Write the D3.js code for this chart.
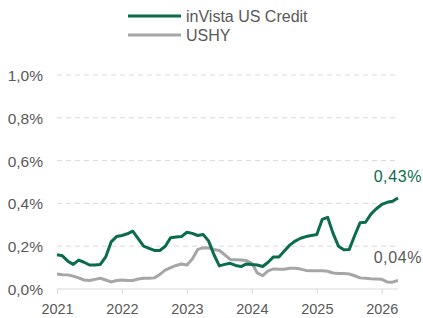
<!DOCTYPE html>
<html>
<head>
<meta charset="utf-8">
<script src="https://cdnjs.cloudflare.com/ajax/libs/d3/7.8.5/d3.min.js"></script>
<style>
    body { margin: 0; background: #fff; }
    svg { font-family: "Liberation Sans", Arial, sans-serif; }
</style>
</head>
<body>
<script>
var w = 423, h = 318;

// monthly points, Jan 2021 .. Apr 2026 (values in %)
var invista = [0.16,0.155,0.13,0.115,0.135,0.125,0.112,0.112,0.115,0.15,0.22,0.245,
    0.25,0.258,0.27,0.235,0.2,0.19,0.18,0.18,0.2,0.24,0.243,0.245,
    0.265,0.26,0.25,0.255,0.225,0.16,0.108,0.115,0.12,0.11,0.105,0.117,
    0.114,0.112,0.105,0.125,0.15,0.15,0.178,0.205,0.224,0.237,0.245,0.25,
    0.255,0.325,0.335,0.26,0.2,0.183,0.185,0.25,0.31,0.312,0.35,0.375,
    0.395,0.405,0.41,0.425];
var ushy = [0.07,0.067,0.066,0.06,0.052,0.042,0.04,0.045,0.05,0.042,0.033,0.04,
    0.042,0.04,0.04,0.047,0.05,0.05,0.052,0.068,0.088,0.1,0.11,0.117,
    0.112,0.14,0.185,0.192,0.193,0.185,0.18,0.16,0.138,0.137,0.136,0.133,
    0.12,0.075,0.062,0.085,0.094,0.092,0.092,0.097,0.097,0.093,0.087,0.085,
    0.085,0.085,0.083,0.075,0.072,0.072,0.07,0.062,0.052,0.05,0.048,0.047,
    0.045,0.033,0.032,0.04];
var years = [2021, 2022, 2023, 2024, 2025, 2026];
var yTicks = [0, 0.2, 0.4, 0.6, 0.8, 1.0];
var seriesNames = ["inVista US Credit", "USHY"];
var colors = ["#0b6b4f", "#a6a6a6"];
var endLabels = ["0,43%", "0,04%"];

var x = d3.scaleLinear().domain([0, invista.length - 1]).range([57, 398]);
var y = d3.scaleLinear().domain([0, 1]).range([289, 75]);

var svg = d3.select("body").append("svg")
    .attr("width", w)
    .attr("height", h);

// gridlines
svg.selectAll("line.grid")
    .data(yTicks.slice(1))
    .enter()
    .append("line")
    .attr("class", "grid")
    .attr("x1", x.range()[0])
    .attr("x2", x.range()[1])
    .attr("y1", function(d){ return y(d); })
    .attr("y2", function(d){ return y(d); })
    .style("stroke", "#d9d9d9")
    .style("stroke-dasharray", "5,4")
    .style("stroke-width", 1);

// y labels
svg.selectAll("text.ylab")
    .data(yTicks)
    .enter()
    .append("text")
    .attr("class", "ylab")
    .attr("x", 43)
    .attr("y", function(d){ return y(d) + 6; })
    .attr("text-anchor", "end")
    .style("font-size", "15.5px")
    .style("fill", "#595959")
    .text(function(d){ return d3.format(".1f")(d).replace(".", ",") + "%"; });

// x axis
var xAxis = d3.axisBottom(x)
    .tickValues(years.map(function(d, i){ return i * 12; }))
    .tickFormat(function(d, i){ return years[i]; })
    .tickSize(5)
    .tickPadding(10);

var gx = svg.append("g")
    .attr("transform", "translate(0," + y(0) + ")")
    .call(xAxis);
gx.select(".domain").attr("d", "M" + x.range()[0] + ",0H" + x.range()[1]).style("stroke", "#d9d9d9");
gx.selectAll(".tick line").style("stroke", "#d9d9d9");
gx.selectAll(".tick text")
    .style("font-size", "14.5px")
    .style("fill", "#595959")
    .style("font-family", "Liberation Sans, Arial, sans-serif");

// lines
var line = d3.line()
    .x(function(d, i){ return x(i); })
    .y(function(d){ return y(d); });

svg.selectAll("path.series")
    .data([ushy, invista])
    .enter()
    .append("path")
    .attr("class", "series")
    .attr("d", line)
    .style("fill", "none")
    .style("stroke", function(d, i){ return colors[1 - i]; })
    .style("stroke-width", 3)
    .style("stroke-linejoin", "round");

// end labels
svg.selectAll("text.endlab")
    .data(endLabels)
    .enter()
    .append("text")
    .attr("class", "endlab")
    .attr("x", 422)
    .attr("y", function(d, i){ return i == 0 ? 182 : 263; })
    .attr("text-anchor", "end")
    .style("font-size", "16px")
    .style("letter-spacing", "0.6px")
    .style("fill", function(d, i){ return i == 0 ? colors[0] : "#595959"; })
    .text(function(d){ return d; });

// legend
var legend = svg.selectAll("g.legend")
    .data(seriesNames)
    .enter()
    .append("g")
    .attr("class", "legend")
    .attr("transform", function(d, i){ return "translate(128," + (16 + i * 19) + ")"; });

legend.append("line")
    .attr("x1", 0)
    .attr("x2", 53)
    .style("stroke", function(d, i){ return colors[i]; })
    .style("stroke-width", 3);

legend.append("text")
    .attr("x", 58)
    .attr("y", 6)
    .style("font-size", "16px")
    .style("fill", "#595959")
    .text(function(d){ return d; });
</script>
</body>
</html>
